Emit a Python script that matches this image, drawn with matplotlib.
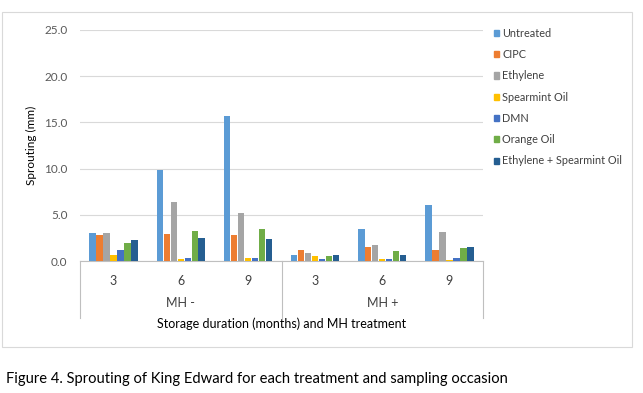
import numpy as np
import matplotlib.pyplot as plt
from matplotlib.patches import Patch, Rectangle
from matplotlib.transforms import blended_transform_factory

plt.rcParams['font.family'] = ['Lato', 'DejaVu Sans']

months = ["3", "6", "9", "3", "6", "9"]
mh_groups = ["MH -", "MH +"]
treatments = ["Untreated", "CIPC", "Ethylene", "Spearmint Oil", "DMN",
              "Orange Oil", "Ethylene + Spearmint Oil"]
colors = ["#5B9BD5", "#ED7D31", "#A5A5A5", "#FFC000", "#4472C4",
          "#70AD47", "#255E91"]

untreated = [3.0, 9.9, 15.7, 0.6, 3.5, 6.1]
cipc = [2.8, 2.9, 2.8, 1.2, 1.5, 1.2]
ethylene = [3.0, 6.4, 5.2, 0.9, 1.7, 3.1]
spearmint = [0.6, 0.2, 0.3, 0.5, 0.2, 0.1]
dmn = [1.2, 0.3, 0.3, 0.2, 0.2, 0.3]
orange = [1.9, 3.3, 3.5, 0.5, 1.1, 1.4]
eth_spear = [2.3, 2.5, 2.4, 0.6, 0.7, 1.5]
series = [untreated, cipc, ethylene, spearmint, dmn, orange, eth_spear]

W, H = 643, 393
fig = plt.figure(figsize=(W / 100, H / 100), dpi=100)
# outer chart border
fig.patches.append(Rectangle((2 / W, 1 - 347 / H), 630 / W, 335 / H,
                             transform=fig.transFigure, fill=False,
                             edgecolor="#d9d9d9", lw=0.8))

ax = fig.add_axes([80 / W, 1 - 261 / H, 403 / W, 231 / H])
x = np.arange(len(months)) + 0.5
bw = 0.104
for i, (vals, c) in enumerate(zip(series, colors)):
    ax.bar(x + (i - 3) * bw, vals, bw * 0.92, color=c, zorder=3)

ax.set_xlim(0, 6)
ax.set_ylim(0, 25)
ax.set_yticks(np.arange(0, 26, 5))
ax.set_yticklabels([f"{v:.1f}" for v in np.arange(0, 26, 5)])
ax.yaxis.grid(True, color="#d9d9d9", lw=0.8)
ax.set_xticks([])
for s in ["top", "right", "left"]:
    ax.spines[s].set_visible(False)
ax.spines["bottom"].set_color("#bfbfbf")
ax.tick_params(axis="y", length=0, labelsize=8.5, colors="#595959", pad=9)
ax.set_ylabel("Sprouting (mm)", fontsize=8.5, color="black", labelpad=5)

# multi-level category axis
tr = blended_transform_factory(ax.transData, ax.transAxes)
for xv in [0, 3, 6]:
    ax.plot([xv, xv], [0, -0.247], transform=tr, color="#bfbfbf", lw=0.8,
            clip_on=False)
for xv, lab in zip(x, months):
    ax.text(xv, -0.085, lab, transform=tr, ha="center", va="center",
            fontsize=9, color="#404040")
for xv, lab in zip([1.5, 4.5], mh_groups):
    ax.text(xv, -0.18, lab, transform=tr, ha="center", va="center",
            fontsize=9, color="#404040")
ax.text(3, -0.27, "Storage duration (months) and MH treatment", transform=tr,
        ha="center", va="center", fontsize=9, color="black")

handles = [Patch(color=c, label=t) for t, c in zip(treatments, colors)]
fig.legend(handles=handles, loc="upper left", bbox_to_anchor=(484 / W, 1 - 18 / H),
           frameon=False, fontsize=7.8, handlelength=0.5, handleheight=0.5,
           handletextpad=0.3, labelspacing=0.95, labelcolor="#404040")

fig.text(6 / W, 1 - 379 / H,
         "Figure 4. Sprouting of King Edward for each treatment and sampling occasion",
         fontsize=10.6, ha="left", va="center")

fig.savefig("out.png", dpi=100)
